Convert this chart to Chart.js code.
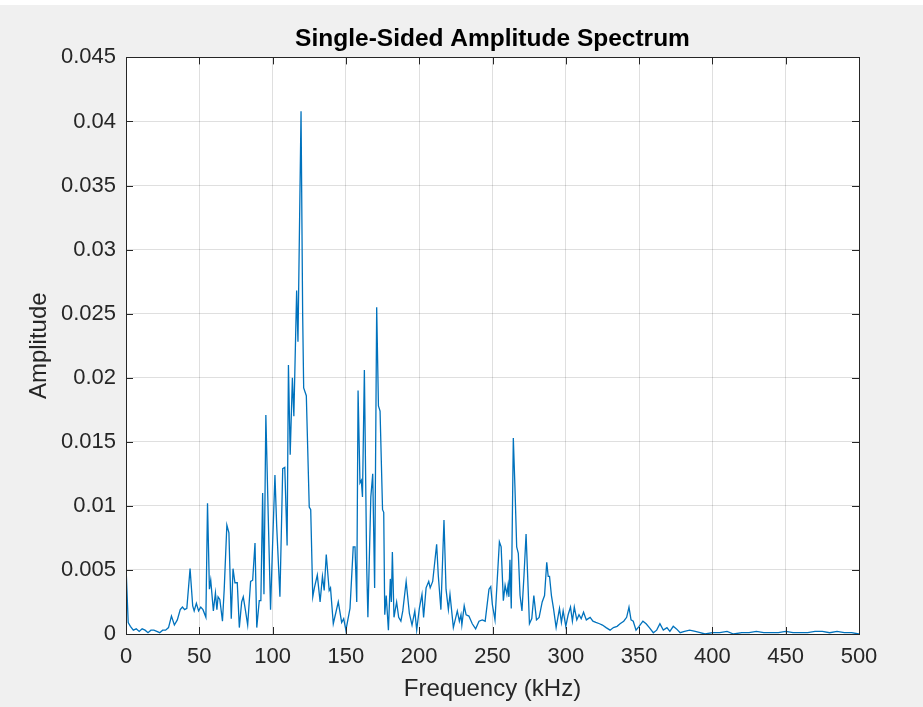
<!DOCTYPE html>
<html>
<head>
<meta charset="utf-8">
<script src="https://cdn.jsdelivr.net/npm/chart.js@4.4.1/dist/chart.umd.min.js"></script>
<style>
  html, body { margin: 0; padding: 0; background: #f0f0f0; }
  #wrap { width: 923px; height: 707px; }
</style>
</head>
<body>
<div id="wrap"><canvas id="chart" width="923" height="707"></canvas></div>
<script>
// frequency (kHz) and amplitude
const freq = [
  0, 1.5, 3, 5, 7, 9, 11, 13, 15, 17, 19, 21, 23, 25, 27, 29, 31, 33, 35, 37,
  38.5, 40, 41.5, 43.7, 45.5, 46.5, 48, 49.5, 51, 52.5, 54.5, 55.6, 56.9, 57.8, 59.6, 61, 62, 62.8, 64, 65.8,
  67, 68.8, 70.2, 71.8, 73, 74.3, 75.9, 77.3, 78.9, 80, 81.4, 83, 85, 86.4, 88, 89.2, 90.9, 92, 93.2, 94.1,
  95.4, 97, 98.6, 100, 101.6, 102.8, 105, 106.9, 108.3, 109.9, 110.8, 112, 113.5, 114.5, 116.4, 117.3, 119.4, 120.5, 121.2, 123,
  125, 126, 127.4, 128.5, 130.5, 132.4, 134, 135.2, 136.6, 138.6, 139.5, 141.4, 143, 144.8, 147.1, 148.5, 150, 152.8, 155, 156.2,
  157.4, 158.3, 159.6, 160.5, 161.3, 162.6, 164.2, 165, 167, 168.3, 169.6, 171, 172.2, 173.3, 175, 175.8, 176.5, 177.5, 179, 180.3,
  181, 181.7, 182.8, 184.6, 186, 187.5, 188.8, 191.1, 193.3, 195.1, 197, 198.3, 200.1, 201.9, 203, 204.7, 206.5, 207.5, 209.2, 211.9,
  213, 214.8, 216.9, 218.3, 219.9, 221, 223.3, 226, 227.4, 228.5, 229.1, 230.7, 232, 233.9, 236.2, 238.5, 240.8, 243, 245, 247.6,
  248.8, 249.9, 251.7, 254.7, 255.9, 257.4, 258.6, 259.8, 260.6, 261.2, 261.9, 262.8, 264.2, 265.3, 266.5, 267.6, 268.8, 270.1, 271.5, 272.9,
  273.8, 275.2, 276.8, 278.2, 280, 281.8, 283.9, 285.5, 287, 288, 288.9, 290.2, 291.6, 293.4, 295.7, 297, 298.2, 300, 301.6, 303.2,
  304.5, 305.8, 307.5, 309, 310.5, 312.1, 314, 316.6, 318.5, 320.5, 323, 325, 327.5, 330.2, 332.5, 335, 337, 339.5, 341.5, 343.1,
  344.5, 346, 347.9, 350, 352.6, 354.8, 357, 359.7, 362, 364.2, 366.5, 369, 371, 373.3, 375.5, 378, 381, 384.5, 388.3, 391.7,
  395, 400, 405, 410, 414.4, 420, 425, 430, 435, 440, 445, 450, 455, 460, 465, 470, 475, 480, 485, 490,
  495, 500
];
const amp = [
  0.0053, 0.0009, 0.0006, 0.0003, 0.0004, 0.0002, 0.0004, 0.0003, 0.0001, 0.0003, 0.0003, 0.0002, 0.0001, 0.0003, 0.0003, 0.0005, 0.0014, 0.0007, 0.0011, 0.0019,
  0.0021, 0.0019, 0.0020, 0.0051, 0.0022, 0.0018, 0.0024, 0.0018, 0.0021, 0.0019, 0.0013, 0.0102, 0.0035, 0.0042, 0.0018, 0.0032, 0.0019, 0.0029, 0.0027, 0.0010,
  0.0035, 0.0085, 0.0079, 0.0012, 0.0051, 0.0040, 0.0040, 0.0005, 0.0025, 0.0029, 0.0019, 0.0007, 0.0041, 0.0042, 0.0071, 0.0005, 0.0026, 0.0026, 0.0110, 0.0031,
  0.0171, 0.0093, 0.0019, 0.0070, 0.0124, 0.0084, 0.0029, 0.0129, 0.0130, 0.0069, 0.0210, 0.0140, 0.0200, 0.0170, 0.0268, 0.0228, 0.0408, 0.0250, 0.0192, 0.0186,
  0.0099, 0.0097, 0.0029, 0.0036, 0.0046, 0.0025, 0.0045, 0.0034, 0.0062, 0.0034, 0.0036, 0.0008, 0.0016, 0.0025, 0.0009, 0.0012, 0.0003, 0.0020, 0.0068, 0.0068,
  0.0025, 0.0190, 0.0118, 0.0120, 0.0107, 0.0206, 0.0052, 0.0013, 0.0107, 0.0125, 0.0036, 0.0255, 0.0178, 0.0174, 0.0097, 0.0095, 0.0015, 0.0030, 0.0003, 0.0043,
  0.0025, 0.0064, 0.0013, 0.0025, 0.0013, 0.0010, 0.0018, 0.0041, 0.0016, 0.0007, 0.0018, 0.0003, 0.0020, 0.0031, 0.0013, 0.0036, 0.0041, 0.0036, 0.0041, 0.0070,
  0.0046, 0.0019, 0.0089, 0.0035, 0.0019, 0.0031, 0.0005, 0.0018, 0.0010, 0.0015, 0.0007, 0.0022, 0.0015, 0.0014, 0.0008, 0.0004, 0.0010, 0.0011, 0.0010, 0.0035,
  0.0037, 0.0023, 0.0011, 0.0072, 0.0068, 0.0026, 0.0038, 0.0031, 0.0038, 0.0029, 0.0058, 0.0020, 0.0153, 0.0115, 0.0068, 0.0063, 0.0030, 0.0018, 0.0046, 0.0078,
  0.0051, 0.0008, 0.0012, 0.0030, 0.0011, 0.0013, 0.0025, 0.0030, 0.0056, 0.0045, 0.0045, 0.0030, 0.0020, 0.0005, 0.0020, 0.0009, 0.0018, 0.0006, 0.0015, 0.0021,
  0.0010, 0.0021, 0.0011, 0.0015, 0.0012, 0.0017, 0.0011, 0.0013, 0.0010, 0.0009, 0.0008, 0.0007, 0.0005, 0.0003, 0.0005, 0.0006, 0.0008, 0.0010, 0.0013, 0.0021,
  0.0011, 0.0010, 0.0003, 0.0006, 0.0010, 0.0008, 0.0005, 0.0001, 0.0003, 0.0008, 0.0003, 0.0005, 0.0002, 0.0006, 0.0004, 0.0001, 0.0002, 0.0003, 0.0002, 0.0001,
  0.0000, 0.0001, 0.0001, 0.0002, 0.0000, 0.0001, 0.0001, 0.0002, 0.0001, 0.0001, 0.0001, 0.0002, 0.0001, 0.0001, 0.0001, 0.0002, 0.0002, 0.0001, 0.0002, 0.0001,
  0.0001, 0.0000
];

const FONT = "Helvetica, 'Liberation Sans', Arial, sans-serif";
const AXIS = "#262626";
const GRID = "rgba(38,38,38,0.15)";

// gray figure, white axes box
const bgPlugin = {
  id: "bg",
  beforeDraw(chart) {
    const { ctx, chartArea: a } = chart;
    ctx.save();
    ctx.fillStyle = "#f0f0f0";
    ctx.fillRect(0, 0, chart.width, chart.height);
    ctx.fillStyle = "#ffffff";
    ctx.fillRect(0, 0, chart.width, 5);
    ctx.fillRect(a.left, a.top, a.right - a.left, a.bottom - a.top);
    ctx.restore();
  }
};

// box outline with inward tick marks on all four sides
const boxPlugin = {
  id: "box",
  afterDraw(chart) {
    const { ctx, chartArea: a, scales } = chart;
    const len = 7;
    ctx.save();
    ctx.strokeStyle = AXIS;
    ctx.lineWidth = 1;
    ctx.beginPath();
    scales.x.ticks.forEach(t => {
      const px = Math.round(scales.x.getPixelForValue(t.value)) + 0.5;
      ctx.moveTo(px, a.bottom); ctx.lineTo(px, a.bottom - len);
      ctx.moveTo(px, a.top); ctx.lineTo(px, a.top + len);
    });
    scales.y.ticks.forEach(t => {
      const py = Math.round(scales.y.getPixelForValue(t.value)) + 0.5;
      ctx.moveTo(a.left, py); ctx.lineTo(a.left + len, py);
      ctx.moveTo(a.right, py); ctx.lineTo(a.right - len, py);
    });
    ctx.stroke();
    ctx.strokeRect(Math.round(a.left) + 0.5, Math.round(a.top) + 0.5,
      Math.round(a.right - a.left), Math.round(a.bottom - a.top));
    ctx.restore();
  }
};

new Chart(document.getElementById("chart").getContext("2d"), {
  type: "line",
  data: {
    datasets: [{
      data: freq.map((f, i) => ({ x: f, y: amp[i] })),
      borderColor: "#0072BD",
      borderWidth: 1.3,
      pointRadius: 0,
      tension: 0,
      fill: false
    }]
  },
  options: {
    responsive: false,
    animation: false,
    layout: { padding: { left: 0, right: 64, top: 0, bottom: 0 } },
    plugins: {
      legend: { display: false },
      tooltip: { enabled: false },
      title: {
        display: true,
        fullSize: false,
        text: "Single-Sided Amplitude Spectrum",
        color: "#000000",
        font: { family: FONT, size: 24.5, weight: "bold" },
        padding: { top: 25, bottom: 3 }
      }
    },
    scales: {
      x: {
        type: "linear",
        min: 0,
        max: 500,
        afterFit(scale) { scale.height = 73; },
        ticks: {
          stepSize: 50,
          maxRotation: 0,
          color: AXIS,
          padding: 10,
          font: { family: FONT, size: 22 }
        },
        grid: { color: GRID, drawTicks: false },
        border: { display: false },
        title: {
          display: true,
          text: "Frequency (kHz)",
          color: AXIS,
          font: { family: FONT, size: 24 },
          padding: { top: 0, bottom: 3 }
        }
      },
      y: {
        min: 0,
        max: 0.045,
        afterFit(scale) { scale.width = 126; },
        ticks: {
          stepSize: 0.005,
          color: AXIS,
          padding: 10,
          font: { family: FONT, size: 22 },
          callback: v => String(Number(v.toFixed(3)))
        },
        grid: { color: GRID, drawTicks: false },
        border: { display: false },
        title: {
          display: true,
          text: "Amplitude",
          color: AXIS,
          font: { family: FONT, size: 24 },
          padding: { top: 25, bottom: 0 }
        }
      }
    }
  },
  plugins: [bgPlugin, boxPlugin]
});
</script>
</body>
</html>
